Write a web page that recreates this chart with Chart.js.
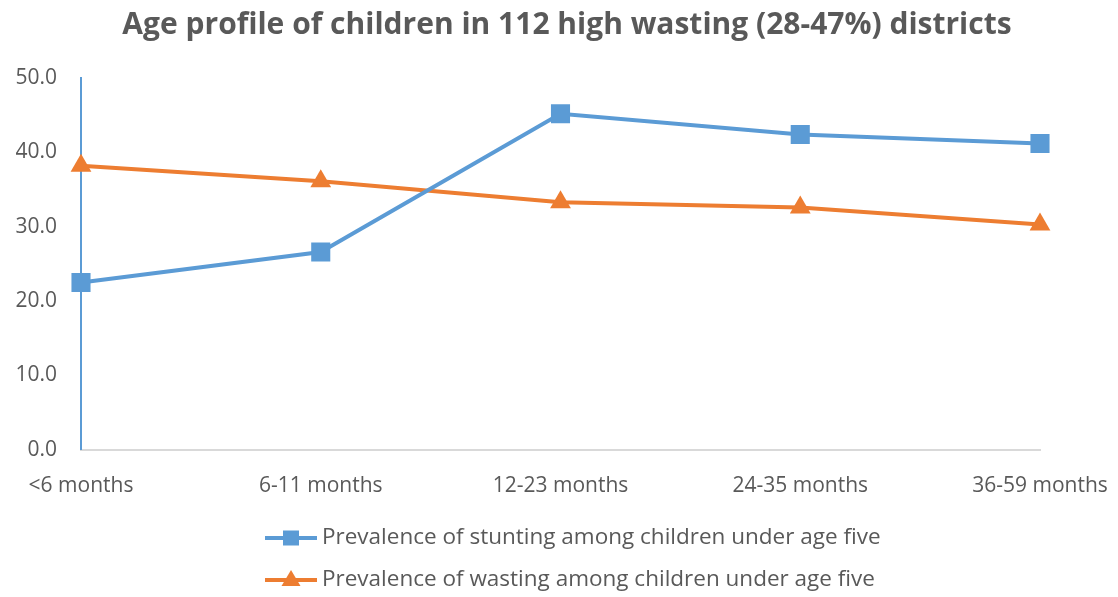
<!DOCTYPE html>
<html>
<head>
<meta charset="utf-8">
<script src="https://cdn.jsdelivr.net/npm/chart.js@4/dist/chart.umd.min.js"></script>
<style>
  html, body { margin: 0; padding: 0; background: #ffffff; }
  #wrap { width: 1118px; height: 597px; position: relative; }
</style>
</head>
<body>
<div id="wrap"><canvas id="chart"></canvas></div>
<script>
// Age groups on the x axis
const ageGroups = ['<6 months', '6-11 months', '12-23 months', '24-35 months', '36-59 months'];

// Prevalence (%) by age group
const stuntingValues = [22.5, 26.6, 45.2, 42.4, 41.2];
const wastingValues = [38.2, 36.1, 33.3, 32.6, 30.3];

const seriesLabels = [
  'Prevalence of stunting among children under age five',
  'Prevalence of wasting among children under age five'
];

const yTicks = [0, 10, 20, 30, 40, 50];

const BLUE = '#5B9BD5';
const ORANGE = '#ED7D31';
const TEXT = '#595959';
const FONT = '"Open Sans", Lato, sans-serif';

// Legend drawn as a left-aligned vertical list with line + marker samples
const stackedLegend = {
  id: 'stackedLegend',
  afterDraw(chart) {
    const ctx = chart.ctx;
    const x0 = 265, lineLen = 52, textX = 322;
    const rows = [538, 580];
    chart.data.datasets.forEach((ds, i) => {
      const y = rows[i];
      ctx.save();
      ctx.strokeStyle = ds.borderColor;
      ctx.lineWidth = 4;
      ctx.beginPath();
      ctx.moveTo(x0, y);
      ctx.lineTo(x0 + lineLen, y);
      ctx.stroke();
      const cx = x0 + lineLen / 2;
      ctx.fillStyle = ds.backgroundColor;
      if (ds.pointStyle === 'rect') {
        ctx.fillRect(cx - 8, y - 7.5, 16, 15);
      } else {
        ctx.beginPath();
        ctx.moveTo(cx, y - 10);
        ctx.lineTo(cx + 9.5, y + 6);
        ctx.lineTo(cx - 9.5, y + 6);
        ctx.closePath();
        ctx.fill();
      }
      ctx.fillStyle = TEXT;
      ctx.font = '22.5px ' + FONT;
      ctx.textBaseline = 'middle';
      ctx.textAlign = 'left';
      ctx.fillText(ds.label, textX, y);
      ctx.restore();
    });
  }
};

new Chart(document.getElementById('chart'), {
  type: 'line',
  data: {
    labels: ageGroups,
    datasets: [
      {
        label: seriesLabels[0],
        data: stuntingValues,
        borderColor: BLUE,
        backgroundColor: BLUE,
        borderWidth: 4,
        pointStyle: 'rect',
        pointRadius: 13.5,
        pointHoverRadius: 13.5,
        pointBorderWidth: 0,
        tension: 0
      },
      {
        label: seriesLabels[1],
        data: wastingValues,
        borderColor: ORANGE,
        backgroundColor: ORANGE,
        borderWidth: 4,
        pointStyle: 'triangle',
        pointRadius: 12,
        pointHoverRadius: 12,
        pointBorderWidth: 0,
        tension: 0
      }
    ]
  },
  options: {
    responsive: true,
    maintainAspectRatio: false,
    animation: false,
    layout: { padding: { left: 16, right: 0, top: 0, bottom: 74 } },
    plugins: {
      legend: { display: false },
      tooltip: { enabled: false },
      title: {
        display: true,
        text: 'Age profile of children in 112 high wasting (28-47%) districts',
        color: TEXT,
        font: { family: FONT, size: 30, weight: 'bold' },
        padding: { top: 7, bottom: 35 }
      }
    },
    scales: {
      x: {
        offset: false,
        grid: { display: false, drawTicks: false },
        border: { display: true, color: '#D9D9D9', width: 2 },
        afterFit(scale) { scale.paddingRight = 78; scale.paddingLeft = 0; },
        ticks: {
          color: TEXT,
          font: { family: FONT, size: 21 },
          padding: 24,
          maxRotation: 0,
          autoSkip: false
        }
      },
      y: {
        min: 0,
        max: 50,
        afterBuildTicks(scale) { scale.ticks = yTicks.map(v => ({ value: v })); },
        afterFit(scale) { scale.width = 65; },
        grid: { display: false, drawTicks: false },
        border: { display: true, color: BLUE, width: 2 },
        ticks: {
          color: TEXT,
          font: { family: FONT, size: 21 },
          padding: 24,
          callback: v => Number(v).toFixed(1)
        }
      }
    }
  },
  plugins: [stackedLegend]
});
</script>
</body>
</html>
